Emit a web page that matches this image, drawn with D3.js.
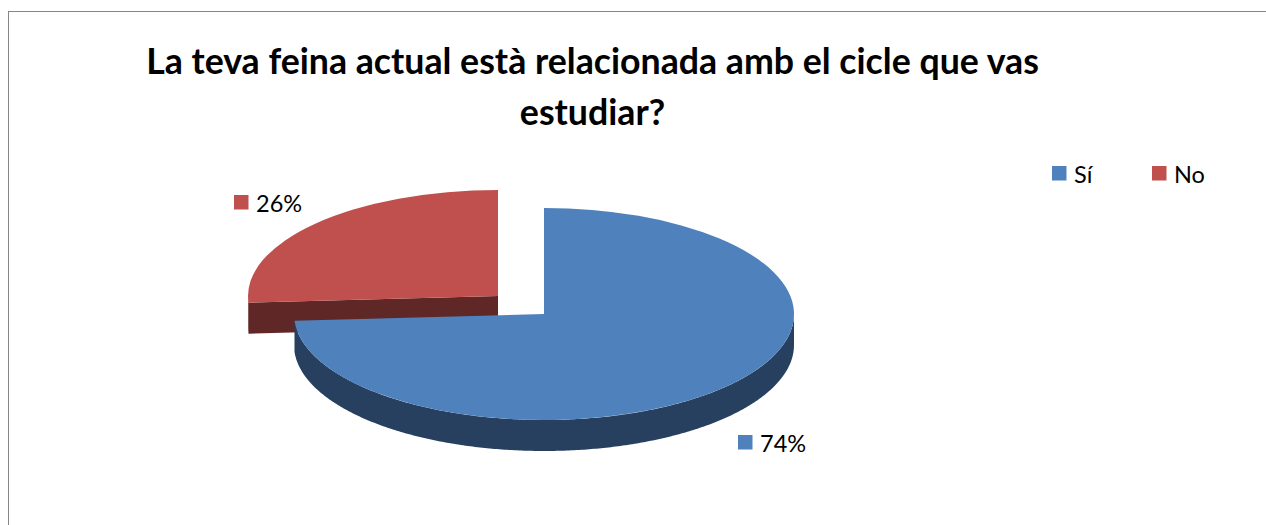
<!DOCTYPE html>
<html>
<head>
<meta charset="utf-8">
<script src="https://cdn.jsdelivr.net/npm/d3@7"></script>
<style>
html, body { margin: 0; padding: 0; background: #fff; }
svg { display: block; }
text { font-family: Lato, "Open Sans", sans-serif; fill: #000; }
</style>
</head>
<body>
<svg class="pie-chart" width="1266" height="525"></svg>
<script>
"use strict";

var categories = ["Sí", "No"];
var values = [74, 26];
var titleLines = ["La teva feina actual està relacionada amb el cicle que vas", "estudiar?"];

var colors = ["#4f81bd", "#c0504d"];
var darkColors = ["#274060", "#5f2725"];

var svg = d3.select("svg.pie-chart");
var rx = 250, ry = 106, depth = 31;

// frame runs off the right and bottom of the picture
svg.append("rect").attr("x", 8.5).attr("y", 11.5).attr("width", 1300).attr("height", 600)
    .attr("fill", "#fff").attr("stroke", "#868686").attr("stroke-width", 1);

svg.selectAll("text.title").data(titleLines).enter().append("text").attr("class", "title")
    .attr("x", 592.5).attr("y", function (d, i) { return 74 + i * 51; })
    .attr("text-anchor", "middle").attr("font-size", 35.7).attr("font-weight", 700)
    .text(function (d) { return d; });

var pie = d3.pie().sort(null);
var slices = pie(values);

var px = d3.scaleLinear().domain([-1, 1]).range([-rx, rx]);
var py = d3.scaleLinear().domain([-1, 1]).range([-ry, ry]);
var arc = d3.arc().innerRadius(0).outerRadius(1);

// the rim of a slice, only where it faces the viewer
function rimPath(s) {
    var start = Math.max(s.startAngle, Math.PI / 2);
    var end = Math.min(s.endAngle, Math.PI * 3 / 2);
    if (end <= start) return null;
    var area = d3.area()
        .x(function (a) { return px(Math.sin(a)); })
        .y0(function (a) { return py(-Math.cos(a)); })
        .y1(function (a) { return py(-Math.cos(a)) + depth; });
    return area(d3.range(start, end, 0.01).concat([end]));
}

function drawSlice(i, cx, cy) {
    var s = slices[i];
    var g = svg.append("g").attr("transform", "translate(" + cx + ", " + cy + ")");

    // rim
    var rim = rimPath(s);
    if (rim) g.append("path").attr("d", rim).attr("fill", darkColors[i]);

    // cut face towards the viewer, on the slice that starts left of centre
    if (s.startAngle > Math.PI) {
        var ex = px(Math.sin(s.startAngle));
        var ey = py(-Math.cos(s.startAngle));
        var cut = d3.path();
        cut.moveTo(0, 0);
        cut.lineTo(ex, ey);
        cut.lineTo(ex, ey + depth);
        cut.lineTo(0, depth);
        cut.closePath();
        g.append("path").attr("d", cut.toString()).attr("fill", darkColors[i]);
    }

    // top face: unit arc squashed into an ellipse
    g.append("path")
        .attr("d", arc(s))
        .attr("transform", "scale(" + rx + ", " + ry + ")")
        .attr("fill", colors[i]);
}

// red sits behind the blue slice
drawSlice(1, 498, 296);
drawSlice(0, 544, 314);

function drawKey(x, y, color, label) {
    svg.append("rect").attr("x", x).attr("y", y).attr("width", 14.5).attr("height", 14.5).attr("fill", color);
    svg.append("text").attr("x", x + 22).attr("y", y + 17).attr("font-size", 23.5).text(label);
}

drawKey(234, 195, colors[1], values[1] + "%");
drawKey(738, 435, colors[0], values[0] + "%");
drawKey(1052, 166, colors[0], categories[0]);
drawKey(1152, 166, colors[1], categories[1]);
</script>
</body>
</html>
